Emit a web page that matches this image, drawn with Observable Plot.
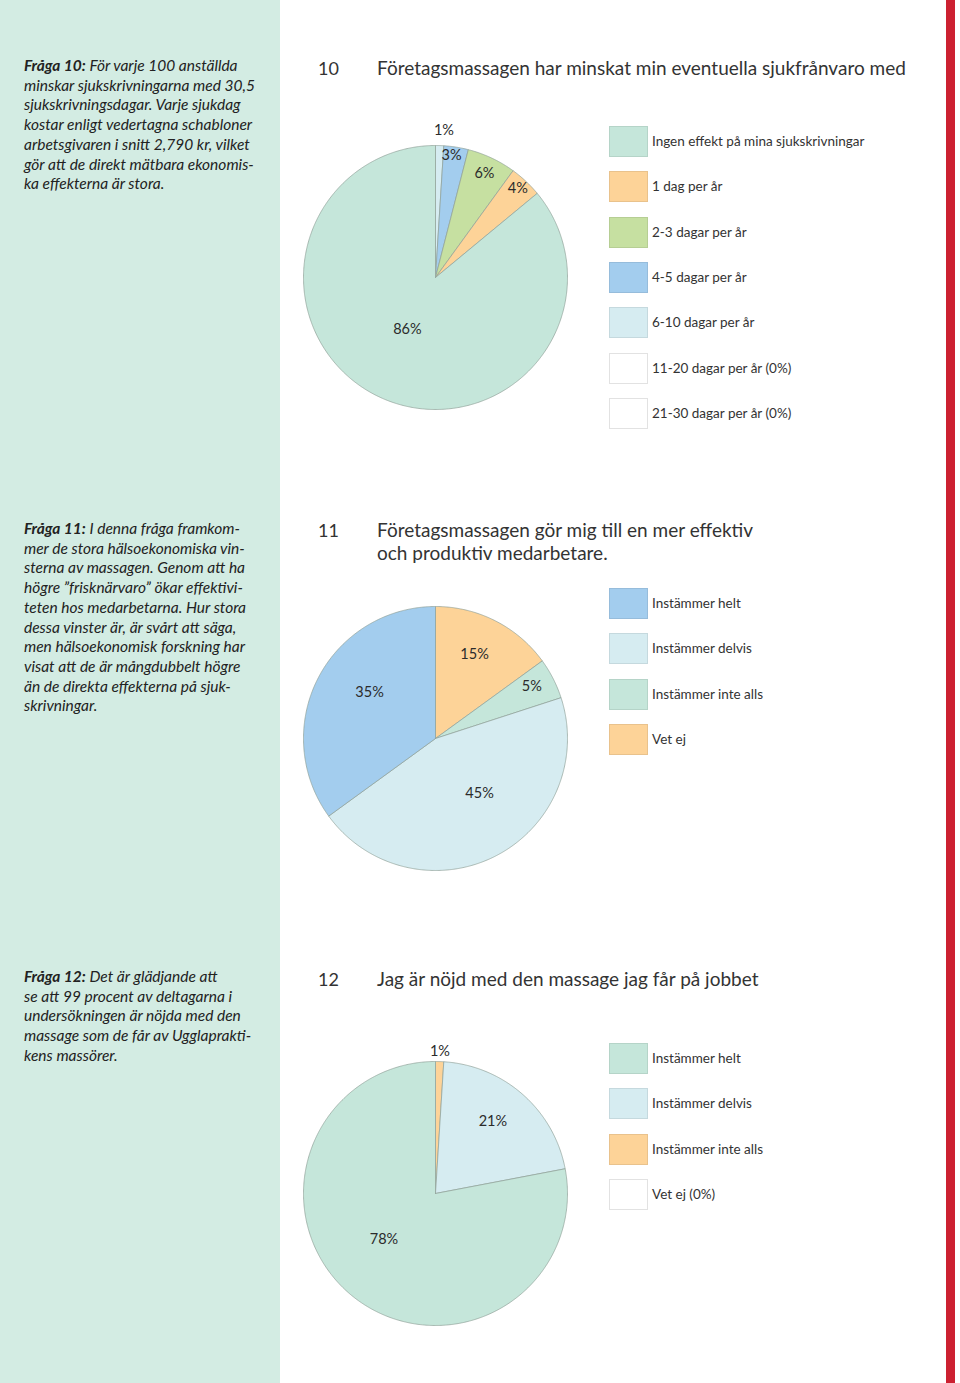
<!DOCTYPE html>
<html>
<head>
<meta charset="utf-8">
<script src="https://cdn.jsdelivr.net/npm/d3@7"></script>
<script src="https://cdn.jsdelivr.net/npm/@observablehq/plot@0.6"></script>
<style>
  html, body { margin: 0; padding: 0; background: #fff; }
  #page { position: relative; width: 960px; height: 1383px; overflow: hidden; background: #fff; font-family: Lato, "Open Sans", sans-serif; color: #2a2a2a; }
  #sidebar { position: absolute; left: 0; top: 0; width: 280px; height: 1383px; background: #d3ece3; }
  #redbar { position: absolute; left: 946px; top: 0; width: 9px; height: 1383px; background: #cc2131; }
  .side { position: absolute; left: 24px; font-style: italic; font-size: 15.5px; line-height: 19.7px; color: #222; white-space: nowrap; }
  .side b { font-weight: 700; }
  .num { position: absolute; left: 318px; font-size: 18px; line-height: 23px; color: #333; }
  .title { position: absolute; left: 377px; font-size: 19px; line-height: 23px; color: #333; white-space: nowrap; font-weight: 400; }
  .chart { position: absolute; }
  .leg { position: absolute; left: 609px; }
  .row { position: absolute; left: 0; height: 30px; width: 320px; }
  .sw { position: absolute; left: 0; top: 0; width: 37px; height: 29px; border: 1px solid rgba(0,0,0,0.08); }
  .lab { position: absolute; left: 43px; top: 0; line-height: 30px; font-size: 13.5px; color: #333; white-space: nowrap; }
</style>
</head>
<body>
<div id="page">
  <div id="sidebar"></div>
  <div id="redbar"></div>

  <div class="side" style="top:56px"><b>Fråga 10:</b> För varje 100 anställda<br>minskar sjukskrivningarna med 30,5<br>sjukskrivningsdagar. Varje sjukdag<br>kostar enligt vedertagna schabloner<br>arbetsgivaren i snitt 2,790 kr, vilket<br>gör att de direkt mätbara ekonomis-<br>ka effekterna är stora.</div>
  <div class="side" style="top:519px"><b>Fråga 11:</b> I denna fråga framkom-<br>mer de stora hälsoekonomiska vin-<br>sterna av massagen. Genom att ha<br>högre ”frisknärvaro” ökar effektivi-<br>teten hos medarbetarna. Hur stora<br>dessa vinster är, är svårt att säga,<br>men hälsoekonomisk forskning har<br>visat att de är mångdubbelt högre<br>än de direkta effekterna på sjuk-<br>skrivningar.</div>
  <div class="side" style="top:967px"><b>Fråga 12:</b> Det är glädjande att<br>se att 99 procent av deltagarna i<br>undersökningen är nöjda med den<br>massage som de får av Ugglaprakti-<br>kens massörer.</div>

  <div class="num" style="top:57px">10</div>
  <div class="title" style="top:56px">Företagsmassagen har minskat min eventuella sjukfrånvaro med</div>
  <div class="num" style="top:519px">11</div>
  <div class="title" style="top:518px">Företagsmassagen gör mig till en mer effektiv<br>och produktiv medarbetare.</div>
  <div class="num" style="top:968px">12</div>
  <div class="title" style="top:967px">Jag är nöjd med den massage jag får på jobbet</div>

  <div id="c10" class="chart"></div>
  <div id="c11" class="chart"></div>
  <div id="c12" class="chart"></div>
  <div id="l10" class="leg"></div>
  <div id="l11" class="leg"></div>
  <div id="l12" class="leg"></div>
</div>
<script>
// ---- Data ----
const q10Categories = ["Ingen effekt på mina sjukskrivningar", "1 dag per år", "2-3 dagar per år", "4-5 dagar per år", "6-10 dagar per år", "11-20 dagar per år (0%)", "21-30 dagar per år (0%)"];
const q10Values = [86, 4, 6, 3, 1, 0, 0];
const q10Colors = ["#c5e6da", "#fdd398", "#c6e0a1", "#a3cdee", "#d6ecf1", "#ffffff", "#ffffff"];

const q11Categories = ["Instämmer helt", "Instämmer delvis", "Instämmer inte alls", "Vet ej"];
const q11Values = [35, 45, 5, 15];
const q11Colors = ["#a3cdee", "#d6ecf1", "#c5e6da", "#fdd398"];

const q12Categories = ["Instämmer helt", "Instämmer delvis", "Instämmer inte alls", "Vet ej (0%)"];
const q12Values = [78, 21, 1, 0];
const q12Colors = ["#c5e6da", "#d6ecf1", "#fdd398", "#ffffff"];

// ---- Layout (label placement in pie order, clockwise from top) ----
const R = 132, M = 24;
const layout = {
  q10: { cx: 435, cy: 277, legTop: 126, labelR: [1.115, 0.93, 0.87, 0.92, 0.45], labelDA: [1.5, -1.5, 0, -0.5, 3] },
  q11: { cx: 435, cy: 738, legTop: 588, labelR: [0.70, 0.83, 0.53, 0.61], labelDA: [-2, -1.5, -12, 8] },
  q12: { cx: 435, cy: 1193, legTop: 1043, labelR: [1.08, 0.70, 0.52], labelDA: [0, -3, 9] }
};

function piePlot(cats, vals, colors, lay) {
  const size = 2 * R + 2 * M;
  const idx = cats.map((c, i) => i).filter(i => vals[i] > 0).reverse();
  const arcs = d3.pie().sort(null).value(i => vals[i])(idx);
  const pts = [];
  arcs.forEach(a => {
    const k = cats[a.data];
    pts.push({ k, x: 0, y: 0 });
    const n = Math.max(2, Math.ceil((a.endAngle - a.startAngle) / (Math.PI / 360)));
    for (let j = 0; j <= n; j++) {
      const t = a.startAngle + (a.endAngle - a.startAngle) * j / n;
      pts.push({ k, x: Math.sin(t), y: Math.cos(t) });
    }
    pts.push({ k, x: 0, y: 0 });
  });
  const labels = arcs.map((a, j) => {
    const t = (a.startAngle + a.endAngle) / 2 + lay.labelDA[j] * Math.PI / 180;
    const r = lay.labelR[j];
    return { x: r * Math.sin(t), y: r * Math.cos(t), text: vals[a.data] + "%" };
  });
  return Plot.plot({
    width: size, height: size, margin: M,
    style: { background: "transparent", fontFamily: "Lato, sans-serif", overflow: "visible" },
    x: { domain: [-1, 1], axis: null },
    y: { domain: [-1, 1], axis: null },
    color: { domain: cats, range: colors },
    marks: [
      Plot.line(pts, { x: "x", y: "y", z: "k", fill: "k", stroke: "#8fa098", strokeWidth: 0.7, strokeLinejoin: "round" }),
      Plot.text(labels, { x: "x", y: "y", text: "text", fontSize: 14.5, fill: "#2b2b2b" })
    ]
  });
}

function legend(el, cats, colors, top) {
  el.style.top = top + "px";
  cats.forEach((c, i) => {
    const row = document.createElement("div");
    row.className = "row";
    row.style.top = (i * 45.3) + "px";
    const sw = document.createElement("div");
    sw.className = "sw";
    sw.style.background = colors[i];
    if (colors[i] === "#ffffff") sw.style.borderColor = "#e2e2e2";
    const lab = document.createElement("div");
    lab.className = "lab";
    lab.textContent = c;
    row.appendChild(sw); row.appendChild(lab);
    el.appendChild(row);
  });
}

function place(id, plot, lay) {
  const el = document.getElementById(id);
  el.style.left = (lay.cx - R - M) + "px";
  el.style.top = (lay.cy - R - M) + "px";
  el.appendChild(plot);
}

place("c10", piePlot(q10Categories, q10Values, q10Colors, layout.q10), layout.q10);
place("c11", piePlot(q11Categories, q11Values, q11Colors, layout.q11), layout.q11);
place("c12", piePlot(q12Categories, q12Values, q12Colors, layout.q12), layout.q12);
legend(document.getElementById("l10"), q10Categories, q10Colors, layout.q10.legTop);
legend(document.getElementById("l11"), q11Categories, q11Colors, layout.q11.legTop);
legend(document.getElementById("l12"), q12Categories, q12Colors, layout.q12.legTop);
</script>
</body>
</html>
